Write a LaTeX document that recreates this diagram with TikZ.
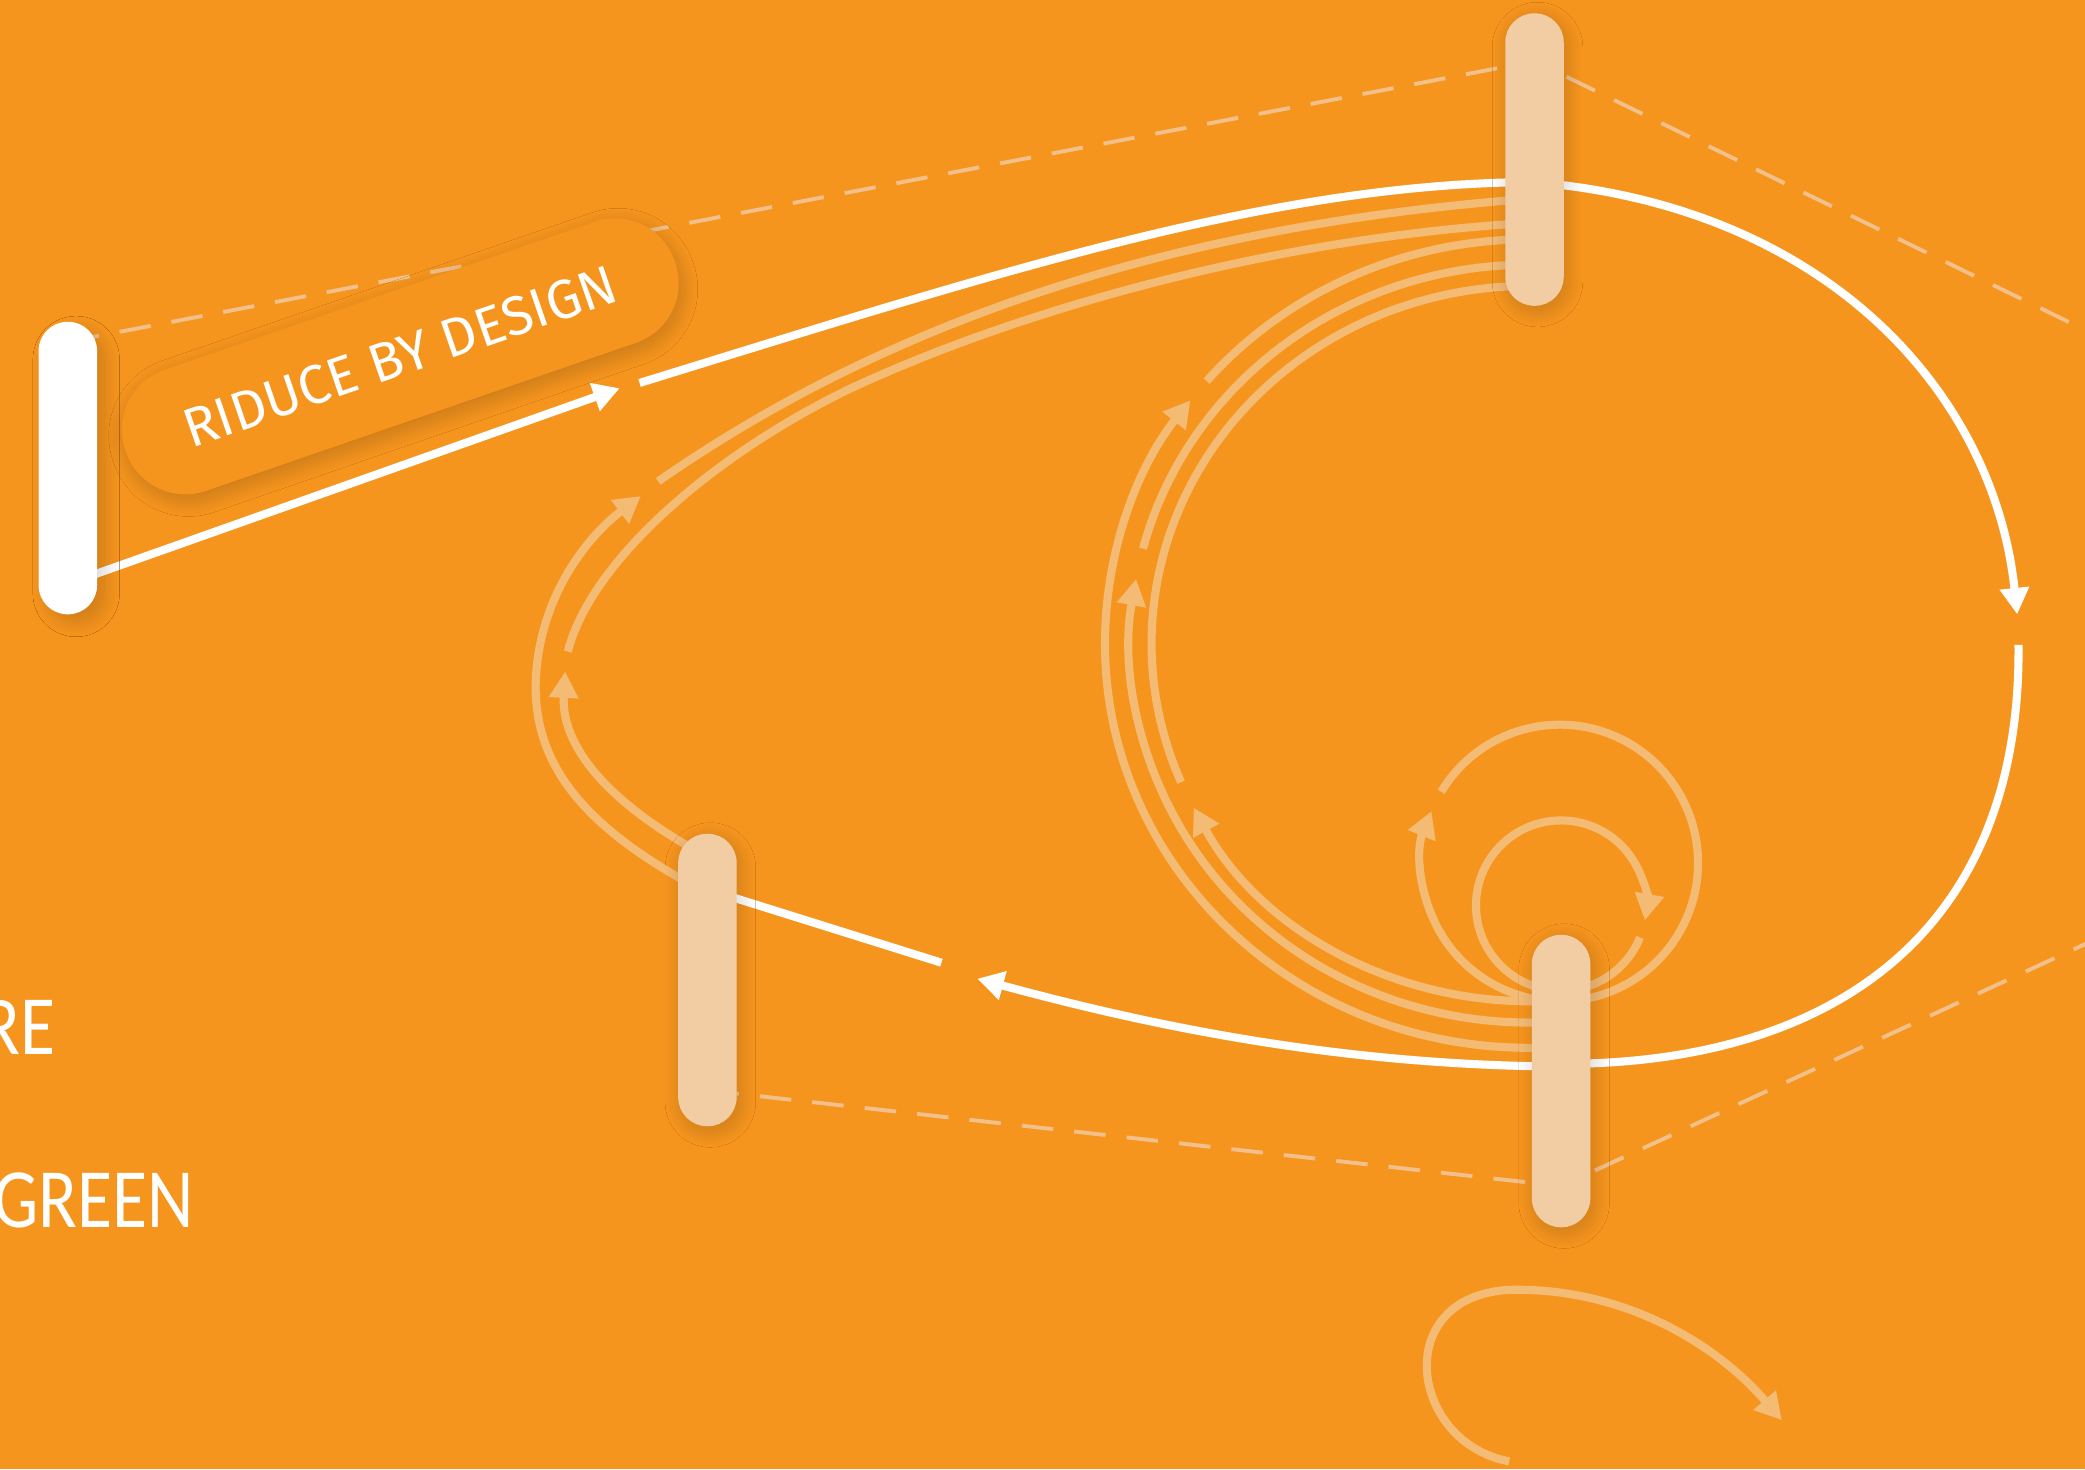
\documentclass[tikz,border=0pt]{standalone}
\usepackage{fontspec}
\setmainfont{Carlito}
\newfontfamily\thinfont{Fira Sans}
\usetikzlibrary{arrows.meta,calc,backgrounds,shadows.blur}
\definecolor{bgorange}{HTML}{F6951E}
\definecolor{pillc}{HTML}{F2CDA4}
\definecolor{trailc}{HTML}{F4BB75}
\definecolor{dashc}{HTML}{F2C08A}
\begin{document}
\begin{tikzpicture}[x=0.13297mm,y=-0.13297mm,>={Triangle[length=7.5pt,width=8pt]},
pill/.style={fill=pillc,rounded corners=2.9mm,minimum width=5.85mm,minimum height=29.25mm,inner sep=0pt,
  blur shadow={shadow xshift=0.3mm,shadow yshift=-0.5mm,shadow blur radius=1.6mm,shadow blur steps=24,shadow opacity=18}},
tag/.style={fill=bgorange,rounded corners=6.3mm,minimum width=58.1mm,minimum height=12.8mm,inner sep=0pt,text=white,
  font=\thinfont\fontsize{15.6}{18}\selectfont,
  blur shadow={shadow xshift=0.3mm,shadow yshift=-0.6mm,shadow blur radius=1.6mm,shadow blur steps=24,shadow opacity=20}},
wline/.style={white,line width=2.3pt},
trail/.style={trailc,line width=2.3pt},
guide/.style={dashc,line width=1.1pt,dash pattern=on 9pt off 6pt},
big/.style={text=white,inner sep=0pt,xscale=0.85,font=\fontsize{24}{28}\selectfont}]
\useasboundingbox (0,0) rectangle (1568,1105);
\node[pill,fill=white,blur shadow={shadow opacity=8,shadow blur radius=1.4mm,shadow blur steps=24}] (feed) at (51,352) {};
\node[pill] (apex) at (1154,120) {};
\node[pill] (turn) at (532,737) {};
\node[pill] (hub) at (1174,813) {};
\node[tag,rotate=19] (tag) at (301,268) {RIDUCE BY DESIGN};
\node[big,anchor=base east] (re) at (42,793) {RE};
\node[big,anchor=base east] (green) at (146,923) {GREEN};
\coordinate (rc) at (1150,484);
\coordinate (lc) at (1173,649);
\coordinate (sc) at (1174,681);
\coordinate (g1) at (482,373); \coordinate (g1r) at (495,362);
\coordinate (g2) at (425,505); \coordinate (g2r) at (427,490);
\coordinate (w1) at (466,292); \coordinate (w1r) at (481,288);
\coordinate (w3) at (1517,462); \coordinate (w3r) at (1518,485);
\coordinate (w5) at (735,736); \coordinate (w5r) at (708,724);
\coordinate (hk0) at (1135,1099); \coordinate (hk1) at (1340,1068);
\begin{scope}[on background layer]
\fill[bgorange] (0,0) rectangle (1568,1105);
\draw[guide] ($(feed.center)+(0,-95)$) -- ($(apex.center)+(0,-74)$) -- (1750,337);
\draw[guide] ($(turn.center)+(0,83)$) -- ($(hub.center)+(0,79)$) -- (1750,626);
\draw[trail,->] ($(turn.center)+(-18,-75)$) .. controls (440,620) and (400,575) .. (403,510) .. controls (406,450) and (440,405) .. (g1);
\draw[trail] (g1r) .. controls (620,275) and (820,175) .. ($(apex.center)+(-10,30)$);
\draw[trail,->] ($(turn.center)+(-15,-101)$) .. controls (455,600) and (422,560) .. (g2);
\draw[trail] (g2r) .. controls (445,420) and (540,340) .. (640,292) .. controls (760,236) and (950,180) .. ($(apex.center)+(-10,48)$);
\draw[trail,->] ($(hub.center)+(-12,-25)$) -- ++(-12,0) arc[start angle=90,end angle=217,x radius=319,y radius=304];
\draw[trail] (rc) ++(220.5:319 and 304) arc[start angle=220.5,end angle=270,x radius=319,y radius=304] -- ++(12,0);
\draw[trail,->] ($(hub.center)+(-12,-44)$) -- ++(-12,0) arc[start angle=90,end angle=189.8,x radius=300,y radius=285];
\draw[trail] (rc) ++(194.5:300 and 285) arc[start angle=194.5,end angle=270,x radius=300,y radius=285] -- ++(12,0);
\draw[trail,->] ($(hub.center)+(-12,-60)$) -- ++(-12,0) arc[start angle=90,end angle=152.7,x radius=284,y radius=269];
\draw[trail] (rc) ++(157.2:284 and 269) arc[start angle=157.2,end angle=270,x radius=284,y radius=269] -- ++(12,0);
\draw[trail,->] (lc) ++(90:104) arc[start angle=90,end angle=202,radius=104];
\draw[trail] (lc) ++(211:104) arc[start angle=211,end angle=450,radius=104];
\draw[trail,->] (sc) ++(90:64) arc[start angle=90,end angle=370,radius=64];
\draw[trail] (sc) ++(382:64) arc[start angle=382,end angle=450,radius=64];
\draw[trail,->] (hk0) .. controls (1060,1085) and (1045,975) .. (1135,970) .. controls (1220,968) and (1290,1010) .. (hk1);
\draw[wline,->] ($(feed.center)+(20,80)$) -- (w1);
\draw[wline] (w1r) .. controls (750,205) and (950,140) .. ($(apex.center)+(-10,17)$);
\draw[wline,->] ($(apex.center)+(10,18)$) .. controls (1380,160) and (1500,300) .. (w3);
\draw[wline] (w3r) .. controls (1520,700) and (1380,797) .. ($(hub.center)+(10,-13)$);
\draw[wline,->] ($(hub.center)+(-10,-11)$) .. controls (1000,800) and (860,770) .. (w5);
\draw[wline] (w5r) -- ($(turn.center)+(10,-65)$);
\end{scope}
\end{tikzpicture}
\end{document}
